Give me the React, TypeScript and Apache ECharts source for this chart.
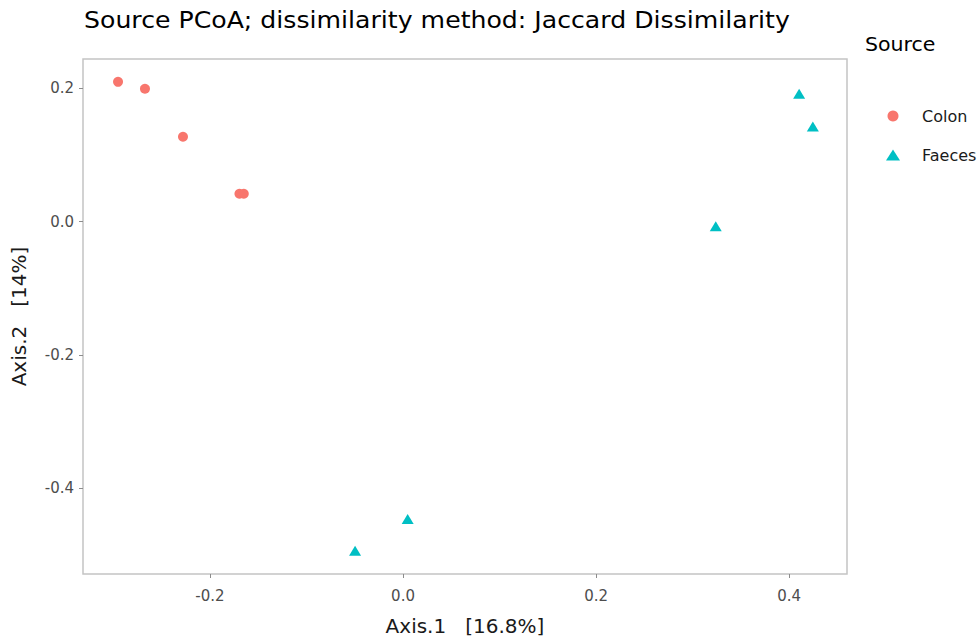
import React, { useEffect, useRef } from "react";
import * as echarts from "echarts";

const colonX = [-0.2953, -0.2674, -0.228, -0.1695, -0.165];
const colonY = [0.2097, 0.1993, 0.1273, 0.0418, 0.0418];
const faecesX = [0.4104, 0.4246, 0.324, 0.0048, -0.0497];
const faecesY = [0.1918, 0.1427, -0.007, -0.4464, -0.494];
const xTicks = [-0.2, 0.0, 0.2, 0.4];
const yTicks = [-0.4, -0.2, 0.0, 0.2];

const FONT = "DejaVu Sans";

export default function App() {
  const ref = useRef<HTMLDivElement>(null);
  useEffect(() => {
    if (!ref.current) return;
    const chart = echarts.init(ref.current, undefined, { renderer: "svg" });
    const axisCommon = {
      type: "value" as const,
      splitLine: { show: false },
      axisLine: { show: false, onZero: false },
      axisTick: { show: true, length: 4, lineStyle: { color: "#8c8c8c", width: 1 } },
      axisLabel: {
        color: "#4d4d4d",
        fontSize: 15,
        fontFamily: FONT,
        formatter: (v: number) => v.toFixed(1),
      },
      nameLocation: "middle" as const,
      nameTextStyle: { color: "#1a1a1a", fontSize: 20, fontFamily: FONT },
    };
    chart.setOption({
      animation: false,
      graphic: [
        {
          type: "text",
          x: 84,
          y: 20,
          scaleX: 1.095,
          style: {
            text: "Source PCoA; dissimilarity method: Jaccard Dissimilarity",
            fontSize: 23,
            fill: "#000",
            fontFamily: FONT,
            verticalAlign: "middle",
          },
        },
        {
          type: "text",
          x: 865,
          y: 45,
          scaleX: 1.08,
          style: { text: "Source", fontSize: 19, fill: "#000", fontFamily: FONT, verticalAlign: "middle" },
        },
      ],
      legend: {
        orient: "vertical",
        left: 886,
        top: 108,
        itemWidth: 14,
        itemHeight: 11,
        itemGap: 23,
        padding: 0,
        textStyle: { fontSize: 16, color: "#1a1a1a", fontFamily: FONT, padding: [0, 0, 0, 17] },
        data: ["Colon", "Faeces"],
      },
      grid: {
        left: 83,
        top: 59,
        width: 764,
        height: 516,
        show: true,
        borderColor: "#c4c4c4",
        borderWidth: 1.5,
        backgroundColor: "transparent",
      },
      xAxis: {
        ...axisCommon,
        min: -0.3316,
        max: 0.46,
        name: "Axis.1   [16.8%]",
        nameGap: 42,
        axisTick: { ...axisCommon.axisTick, customValues: xTicks },
        axisLabel: { ...axisCommon.axisLabel, customValues: xTicks, margin: 14 },
      },
      yAxis: {
        ...axisCommon,
        min: -0.529,
        max: 0.244,
        name: "Axis.2   [14%]",
        nameGap: 54,
        axisTick: { ...axisCommon.axisTick, customValues: yTicks },
        axisLabel: { ...axisCommon.axisLabel, customValues: yTicks, margin: 9 },
      },
      series: [
        {
          name: "Colon",
          type: "scatter",
          symbol: "circle",
          symbolSize: 10,
          itemStyle: { color: "#F8766D", opacity: 1 },
          data: colonX.map((x, i) => [x, colonY[i]]),
        },
        {
          name: "Faeces",
          type: "scatter",
          symbol: "triangle",
          symbolSize: [12, 10],
          itemStyle: { color: "#00BFC4", opacity: 1 },
          data: faecesX.map((x, i) => [x, faecesY[i]]),
        },
      ],
    });
    return () => chart.dispose();
  }, []);
  return <div ref={ref} style={{ width: 980, height: 641, position: "absolute", left: 0, top: 0 }} />;
}
